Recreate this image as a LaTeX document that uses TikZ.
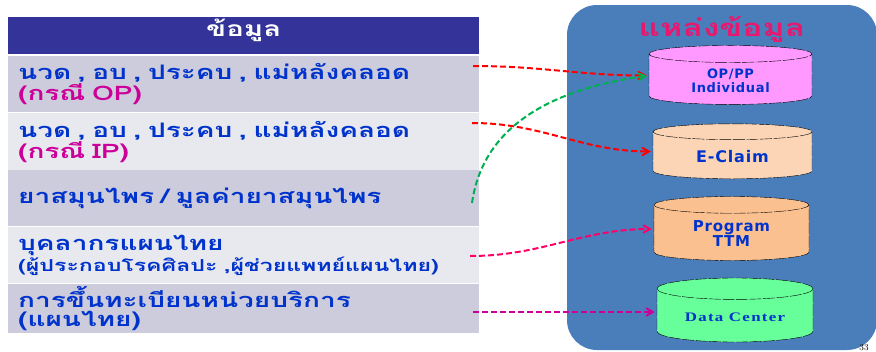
\documentclass[tikz,border=0pt]{standalone}
\usepackage{fontspec}
\newfontfamily\thaifont[Script=Thai, FakeStretch=1.4]{Loma}
\newfontfamily\dbfont[LetterSpace=5]{DejaVu Sans}
\newfontfamily\dcfont[FakeStretch=1.3, LetterSpace=10]{Liberation Serif}
\usetikzlibrary{shapes.geometric, arrows}
\usetikzlibrary{calc}
\usetikzlibrary{positioning}
\definecolor{headblue}{RGB}{51,51,153}
\definecolor{rowdark}{RGB}{204,204,221}
\definecolor{rowlight}{RGB}{232,232,239}
\definecolor{boxblue}{RGB}{74,126,187}
\definecolor{txtblue}{RGB}{0,51,204}
\definecolor{txtpink}{RGB}{204,0,153}
\definecolor{titlepink}{RGB}{232,24,110}
\definecolor{oppink}{RGB}{255,153,255}
\definecolor{claimpeach}{RGB}{251,213,181}
\definecolor{ttmorange}{RGB}{250,192,144}
\definecolor{dcgreen}{RGB}{102,255,153}
\definecolor{arrred}{RGB}{255,0,0}
\definecolor{arrgreen}{RGB}{0,176,80}
\definecolor{arrpink}{RGB}{255,0,102}
\begin{document}
\begin{tikzpicture}[x=1pt,y=1pt,yscale=-1,xscale=1]
  \useasboundingbox (0,0) rectangle (876,351);
  \tikzstyle{row} = [anchor=north west, minimum width=471pt, text width=451pt, inner xsep=10pt, inner ysep=0pt, align=left, font=\thaifont\bfseries\fontsize{20}{19}\selectfont, text=txtblue]
  \tikzstyle{db} = [cylinder, shape border rotate=90, draw, thin, dash pattern=on 12pt off 1.5pt, aspect=0.2, align=center, text=txtblue, font=\dbfont\bfseries\fontsize{13}{14}\selectfont]
  \tikzstyle{link} = [line width=2pt, dash pattern=on 6pt off 3pt, ->, >=angle 60, shorten >=2pt]
  %Draw the table on the left
  \node [anchor=north west, fill=headblue, minimum width=471pt, minimum height=37pt] (head) at (8,17) {};
  \node [text=white, font=\thaifont\bfseries\fontsize{21}{24}\selectfont] (headtxt) at ($(head.center)+(0,-5)$) {ข้อมูล};
  \node [row, fill=rowdark, minimum height=56pt] (r1) at (8,56) {นวด , อบ , ประคบ , แม่หลังคลอด\\\textcolor{txtpink}{(กรณี OP)}};
  \node [row, fill=rowlight, minimum height=57pt] (r2) at (8,113) {นวด , อบ , ประคบ , แม่หลังคลอด\\\textcolor{txtpink}{(กรณี IP)}};
  \node [row, fill=rowdark, minimum height=56pt] (r3) at (8,170) {ยาสมุนไพร / มูลค่ายาสมุนไพร};
  \node [row, fill=rowlight, minimum height=56pt] (r4) at (8,227) {บุคลากรแผนไทย\\{\fontsize{16.5}{19}\selectfont(ผู้ประกอบโรคศิลปะ ,ผู้ช่วยแพทย์แผนไทย)}};
  \node [row, fill=rowdark, minimum height=49pt] (r5) at (8,284) {การขึ้นทะเบียนหน่วยบริการ\\(แผนไทย)};
  %Draw the source box on the right
  \fill [boxblue, rounded corners=30pt] (567,5) rectangle (877,350);
  \node [text=titlepink, font=\thaifont\bfseries\fontsize{24}{28}\selectfont] (title) at (722,29) {แหล่งข้อมูล};
  % Draw the databases
  \node [db, fill=oppink, minimum width=163pt, minimum height=59pt] (op) at (730.5,80.5) {OP/PP\\Individual};
  \node [db, fill=claimpeach, minimum width=159pt, minimum height=55pt, font=\dbfont\bfseries\fontsize{16}{17}\selectfont] (eclaim) at (732.5,156.5) {E-Claim};
  \node [db, fill=ttmorange, minimum width=155pt, minimum height=64pt, font=\dbfont\bfseries\fontsize{15}{15}\selectfont] (ttm) at (731.5,234) {Program\\TTM};
  \node [db, fill=dcgreen, minimum width=156pt, minimum height=64pt, font=\dcfont\bfseries\fontsize{13}{15}\selectfont] (dc) at (735,317) {Data Center};
  % Start points of the links
  \coordinate (s1) at (473,66);
  \coordinate (s2) at (472,123);
  \coordinate (s3) at (472,203);
  \coordinate (s4) at (470,256);
  \coordinate (s5) at (473,312);
  % Draw the links
  \draw [link, arrred] (s1) to[out=0,in=180] ($(op.180)+(0,-5)$);
  \draw [link, arrred] (s2) to[out=0,in=180] ($(eclaim.180)+(0,-5)$);
  \draw [link, arrgreen] (s3) to[out=-82,in=172] ($(op.180)+(0,-5)$);
  \draw [link, arrpink] (s4) to[out=0,in=180] ($(ttm.180)+(0,-5)$);
  \draw [link, txtpink] (s5) -- ($(dc.180)+(0,-5)$);
  % Page number
  \node [anchor=south, inner sep=0.5pt, font=\fontsize{9}{10}\selectfont] (pg) at (864,351) {33};
\end{tikzpicture}
\end{document}
